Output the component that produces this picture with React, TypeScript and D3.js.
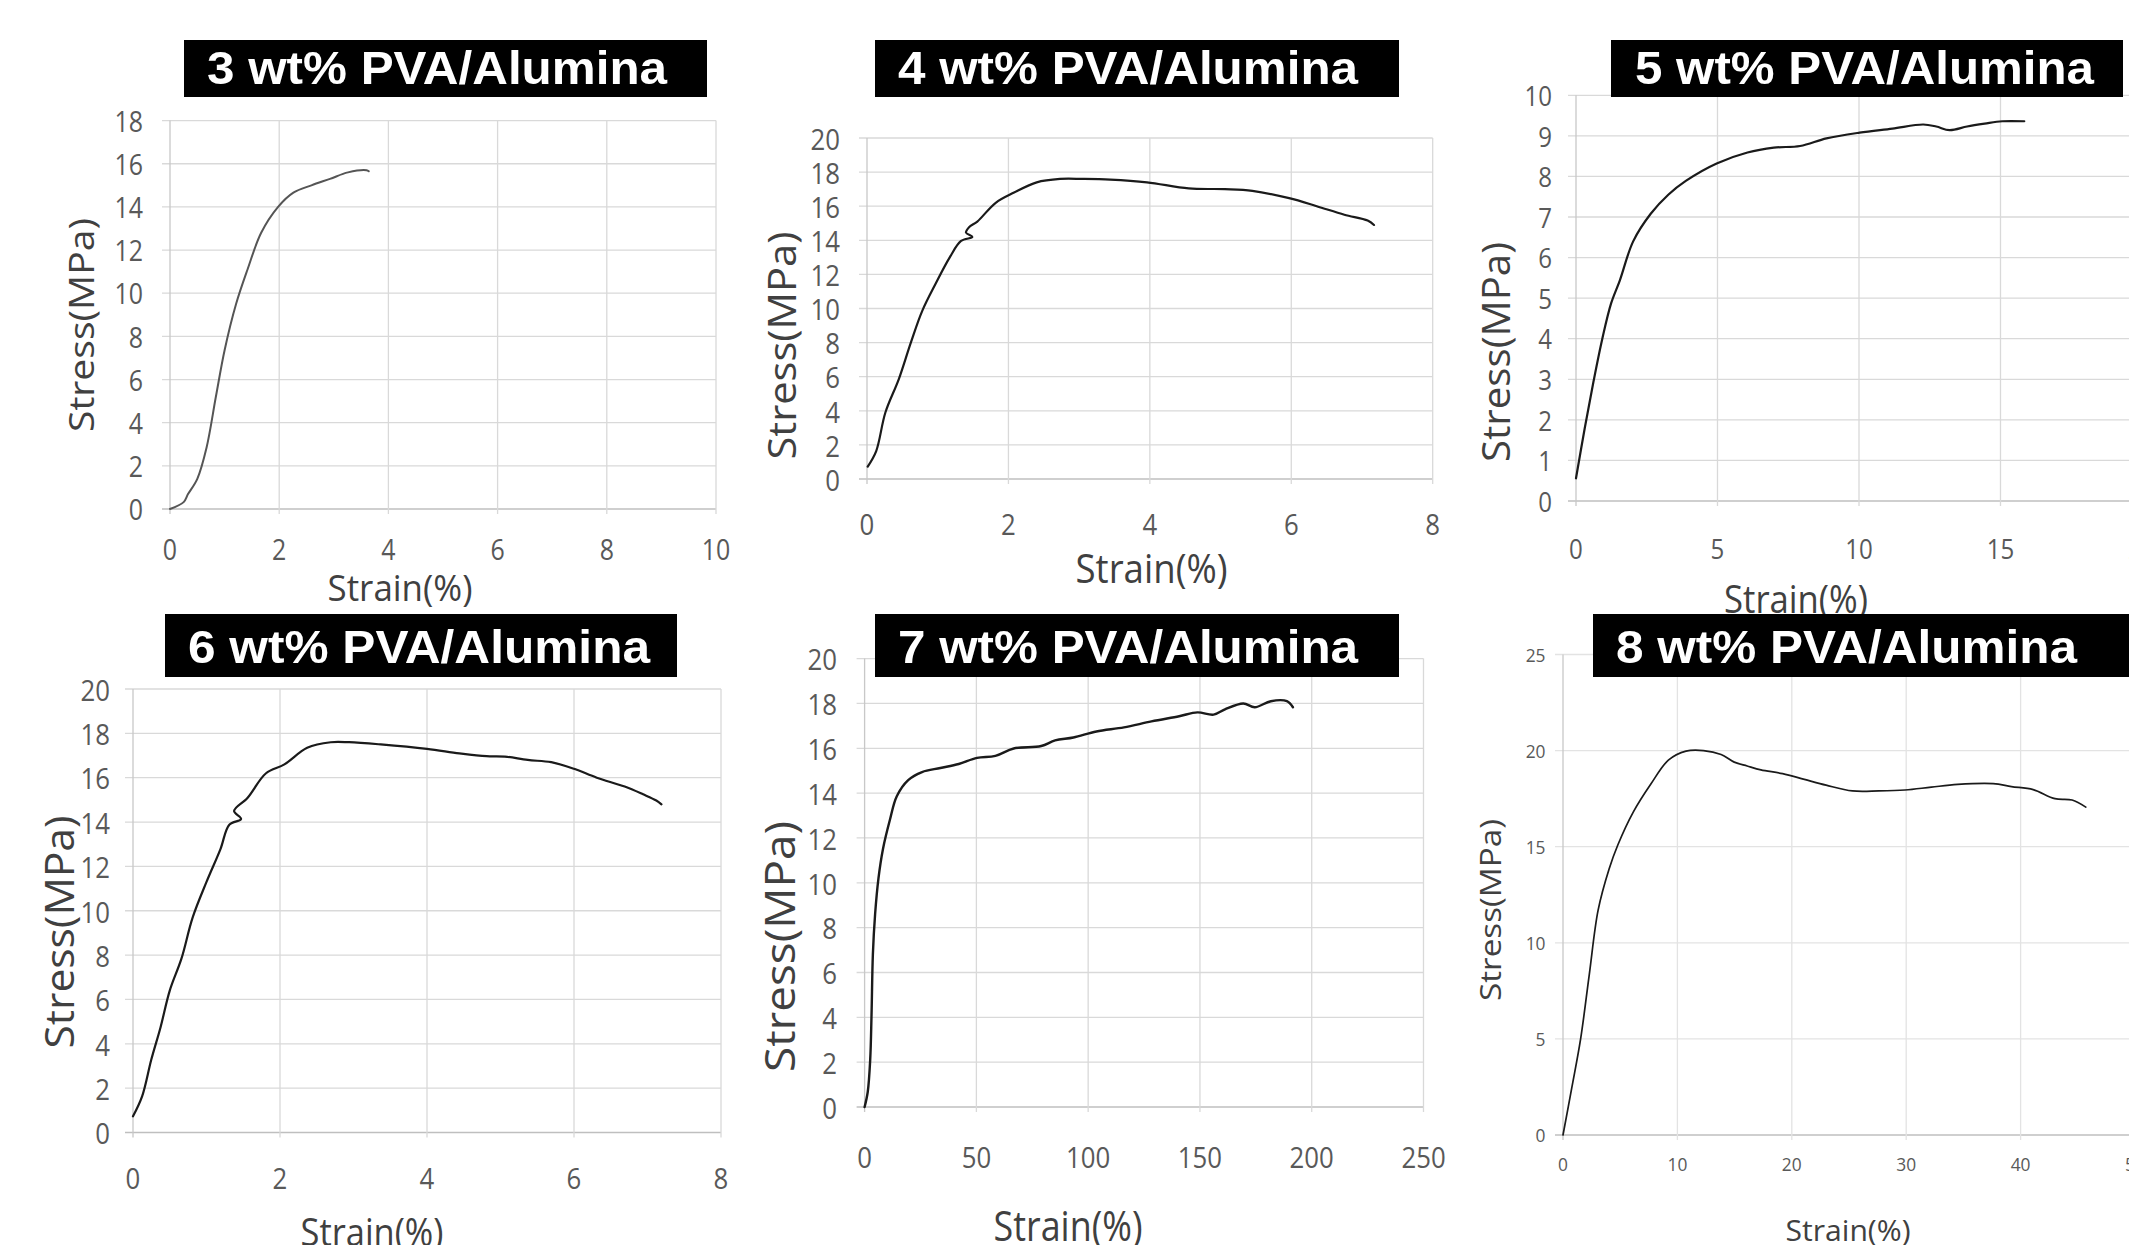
import React from 'react';
import * as d3 from 'd3';

// ---------- DATA ----------
const strain3 = [0, 0.25, 0.33, 0.5, 0.67, 0.84, 1.0, 1.21, 1.42, 1.67, 1.98, 2.26, 2.59, 2.93, 3.26, 3.6, 3.64];
const stress3 = [0, 0.32, 0.69, 1.4, 2.85, 5.2, 7.36, 9.5, 11.1, 12.8, 14.0, 14.66, 15.0, 15.3, 15.6, 15.7, 15.65];
const xTicks3 = [0, 2, 4, 6, 8, 10];
const yTicks3 = [0, 2, 4, 6, 8, 10, 12, 14, 16, 18];

const strain4 = [0.01, 0.13, 0.26, 0.45, 0.62, 0.78, 0.97, 1.17, 1.33, 1.49, 1.4, 1.45, 1.56, 1.82, 2.08, 2.4, 2.73, 3.05, 3.44, 3.96, 4.55, 5.06, 5.45, 5.97, 6.36, 6.75, 7.08, 7.17];
const stress4 = [0.73, 1.64, 3.9, 5.86, 8.0, 9.85, 11.45, 13.0, 13.96, 14.2, 14.45, 14.8, 15.1, 16.2, 16.8, 17.4, 17.6, 17.6, 17.56, 17.4, 17.04, 17.0, 16.9, 16.47, 16.0, 15.5, 15.16, 14.9];
const xTicks4 = [0, 2, 4, 6, 8];
const yTicks4 = [0, 2, 4, 6, 8, 10, 12, 14, 16, 18, 20];

const strain5 = [0, 0.31, 0.62, 0.93, 1.24, 1.55, 2.02, 2.64, 3.26, 3.88, 4.97, 6.06, 6.99, 7.92, 8.85, 10.02, 11.18, 12.27, 12.73, 13.2, 13.82, 14.44, 15.06, 15.84];
const stress5 = [0.56, 1.8, 2.95, 4.0, 4.87, 5.44, 6.4, 7.08, 7.55, 7.89, 8.32, 8.59, 8.71, 8.75, 8.94, 9.08, 9.18, 9.28, 9.23, 9.14, 9.23, 9.3, 9.36, 9.36];
const xTicks5 = [0, 5, 10, 15, 20];
const yTicks5 = [0, 1, 2, 3, 4, 5, 6, 7, 8, 9, 10];

const strain6 = [0, 0.125, 0.25, 0.375, 0.5, 0.66, 0.81, 1.0, 1.19, 1.31, 1.47, 1.375, 1.56, 1.81, 2.06, 2.37, 2.69, 2.94, 3.37, 4.0, 4.44, 4.81, 5.06, 5.37, 5.69, 6.0, 6.31, 6.69, 6.94, 7.12, 7.19];
const stress6 = [0.73, 1.64, 3.3, 4.75, 6.4, 7.85, 9.68, 11.3, 12.78, 13.88, 14.14, 14.5, 15.1, 16.2, 16.6, 17.35, 17.6, 17.6, 17.5, 17.3, 17.1, 16.97, 16.95, 16.8, 16.7, 16.4, 16.0, 15.6, 15.25, 14.97, 14.8];
const xTicks6 = [0, 2, 4, 6, 8];
const yTicks6 = [0, 2, 4, 6, 8, 10, 12, 14, 16, 18, 20];

const strain7 = [0, 1.4, 2.5, 3.1, 3.7, 4.7, 6.2, 8.2, 11.3, 14.4, 19.5, 25.7, 33.9, 42.1, 50.3, 58.5, 66.7, 79, 85.2, 93.4, 103.7, 116, 128.3, 140.7, 148.9, 156.1, 161.2, 169.4, 174.5, 181.7, 188.9, 191.6];
const stress7 = [0, 0.67, 2.1, 4.1, 6.8, 8.6, 10.2, 11.5, 12.8, 13.86, 14.58, 14.94, 15.12, 15.3, 15.57, 15.66, 15.99, 16.1, 16.35, 16.48, 16.75, 16.93, 17.2, 17.43, 17.6, 17.5, 17.74, 18.0, 17.83, 18.1, 18.1, 17.83];
const xTicks7 = [0, 50, 100, 150, 200, 250];
const yTicks7 = [0, 2, 4, 6, 8, 10, 12, 14, 16, 18, 20];

const strain8 = [0, 0.77, 1.54, 2.3, 3.07, 4.03, 4.8, 6.14, 7.68, 9.21, 10.75, 12.28, 13.82, 14.97, 16.1, 17.3, 19.2, 21.1, 23.0, 25.3, 27.6, 29.9, 32.2, 34.5, 37.6, 39.2, 41.1, 43.0, 44.5, 45.7];
const stress8 = [0, 2.46, 5.0, 8.36, 11.7, 13.84, 15.1, 16.8, 18.26, 19.5, 19.97, 20.0, 19.8, 19.4, 19.2, 19.0, 18.8, 18.5, 18.2, 17.9, 17.9, 17.95, 18.1, 18.24, 18.28, 18.13, 17.97, 17.5, 17.43, 17.06];
const xTicks8 = [0, 10, 20, 30, 40, 50];
const yTicks8 = [0, 5, 10, 15, 20, 25];

const titles = ['3 wt% PVA/Alumina', '4 wt% PVA/Alumina', '5 wt% PVA/Alumina', '6 wt% PVA/Alumina', '7 wt% PVA/Alumina', '8 wt% PVA/Alumina'];
const yTitle = 'Stress(MPa)';
const xTitle = 'Strain(%)';

// ---------- LAYOUT ----------
const W = 2129, H = 1245;
const SANS = "'Open Sans', 'Noto Sans', sans-serif";
const ARIAL = "'Liberation Sans', Arial, sans-serif";

type Panel = {
  xs: number[]; ys: number[]; xt: number[]; yt: number[];
  xr: [number, number]; yr: [number, number];
  tick: number; tickSx: number; yLabGap: number; xLabOff: number;
  yT: { x: number; y: number; size: number; len: number };
  xT: { x: number; y: number; size: number; len: number };
  box: { x: number; y: number; w: number; h: number; tx: number; ty: number; len: number };
  stroke: string; sw: number; grid: string;
};

const panels: Panel[] = [
  { xs: strain3, ys: stress3, xt: xTicks3, yt: yTicks3, xr: [170, 716], yr: [509, 120.6], tick: 29, tickSx: 0.86, yLabGap: 27, xLabOff: 39.5,
    yT: { x: 80, y: 325, size: 35, len: 214 }, xT: { x: 400, y: 587, size: 36, len: 145 },
    box: { x: 184, y: 40, w: 523, h: 57, tx: 207, ty: 84, len: 460 }, stroke: '#555', sw: 2, grid: '#d9d9d9' },
  { xs: strain4, ys: stress4, xt: xTicks4, yt: yTicks4, xr: [867, 1432.7], yr: [479, 138], tick: 30, tickSx: 0.86, yLabGap: 27, xLabOff: 44,
    yT: { x: 780.5, y: 345.5, size: 38, len: 228 }, xT: { x: 1151.5, y: 567.6, size: 40, len: 152 },
    box: { x: 875, y: 40, w: 524, h: 57, tx: 898, ty: 84, len: 460 }, stroke: '#1a1a1a', sw: 2.2, grid: '#d9d9d9' },
  { xs: strain5, ys: stress5, xt: xTicks5, yt: yTicks5, xr: [1576, 2142], yr: [501, 95.3], tick: 28, tickSx: 0.86, yLabGap: 24, xLabOff: 47.5,
    yT: { x: 1495, y: 352, size: 38, len: 220 }, xT: { x: 1796, y: 598, size: 38, len: 144 },
    box: { x: 1611, y: 40, w: 512, h: 57, tx: 1635, ty: 84, len: 459 }, stroke: '#1a1a1a', sw: 2.2, grid: '#d9d9d9' },
  { xs: strain6, ys: stress6, xt: xTicks6, yt: yTicks6, xr: [133, 721], yr: [1132.5, 689], tick: 30, tickSx: 0.86, yLabGap: 23, xLabOff: 44.5,
    yT: { x: 58, y: 932, size: 40, len: 233 }, xT: { x: 372, y: 1231, size: 38, len: 143 },
    box: { x: 165, y: 614, w: 512, h: 63, tx: 188, ty: 663, len: 462 }, stroke: '#1a1a1a', sw: 2.2, grid: '#d9d9d9' },
  { xs: strain7, ys: stress7, xt: xTicks7, yt: yTicks7, xr: [864.6, 1423.5], yr: [1107, 658.6], tick: 30, tickSx: 0.86, yLabGap: 27.6, xLabOff: 49.7,
    yT: { x: 778, y: 946.5, size: 42, len: 251 }, xT: { x: 1068, y: 1224, size: 42, len: 149 },
    box: { x: 875, y: 614, w: 524, h: 63, tx: 898, ty: 663, len: 460 }, stroke: '#1a1a1a', sw: 2.4, grid: '#d9d9d9' },
  { xs: strain8, ys: stress8, xt: xTicks8, yt: yTicks8, xr: [1563, 2135], yr: [1135, 654.5], tick: 18.5, tickSx: 0.94, yLabGap: 17.5, xLabOff: 29,
    yT: { x: 1489, y: 910, size: 30, len: 182 }, xT: { x: 1848, y: 1229.5, size: 30, len: 125 },
    box: { x: 1593, y: 614, w: 540, h: 63, tx: 1616, ty: 663, len: 461 }, stroke: '#1a1a1a', sw: 1.7, grid: '#e3e3e3' },
];

function PanelChart({ p }: { p: Panel }) {
  const xd = [p.xt[0], p.xt[p.xt.length - 1]];
  const yd = [p.yt[0], p.yt[p.yt.length - 1]];
  const x = d3.scaleLinear().domain(xd).range(p.xr);
  const y = d3.scaleLinear().domain(yd).range(p.yr);
  const pts = p.xs.map((v, i) => [v, p.ys[i]] as [number, number]);
  const line = d3.line<[number, number]>().x(d => x(d[0])).y(d => y(d[1])).curve(d3.curveCatmullRom.alpha(0.5));
  const [x0, x1] = p.xr;
  const [yb, yt] = p.yr;
  return (
    <g>
      {p.yt.map(t => (
        <line key={'gy' + t} x1={x0 - 8} x2={x1} y1={y(t)} y2={y(t)} stroke={t === 0 ? '#bfbfbf' : p.grid} strokeWidth={t === 0 ? 1.6 : 1.3} />
      ))}
      {p.xt.map(t => (
        <line key={'gx' + t} x1={x(t)} x2={x(t)} y1={yt} y2={yb + 5} stroke={t === 0 ? '#c8c8c8' : p.grid} strokeWidth={1.3} />
      ))}
      {p.yt.map(t => (
        <text key={'ly' + t} transform={`translate(${x0 - p.yLabGap},${y(t)}) scale(${p.tickSx},1)`} textAnchor="end" dominantBaseline="central"
          fontFamily={SANS} fontSize={p.tick} fill="#595959">{t}</text>
      ))}
      {p.xt.map(t => (
        <text key={'lx' + t} transform={`translate(${x(t)},${yb + p.xLabOff}) scale(${p.tickSx},1)`} textAnchor="middle" dominantBaseline="central"
          fontFamily={SANS} fontSize={p.tick} fill="#595959">{t}</text>
      ))}
      <path d={line(pts) || ''} fill="none" stroke={p.stroke} strokeWidth={p.sw} strokeLinejoin="round" strokeLinecap="round" />
      <text transform={`translate(${p.yT.x},${p.yT.y}) rotate(-90)`} textAnchor="middle" dominantBaseline="central" fontFamily={SANS}
        fontSize={p.yT.size} fill="#404040" textLength={p.yT.len} lengthAdjust="spacingAndGlyphs">{yTitle}</text>
      <text transform={`translate(${p.xT.x},${p.xT.y})`} textAnchor="middle" dominantBaseline="central" fontFamily={SANS}
        fontSize={p.xT.size} fill="#404040" textLength={p.xT.len} lengthAdjust="spacingAndGlyphs">{xTitle}</text>
    </g>
  );
}

export default function App() {
  return (
    <svg width={W} height={H} viewBox={`0 0 ${W} ${H}`} style={{ position: 'absolute', left: 0, top: 0, display: 'block', background: '#fff' }}>
      <rect x={0} y={0} width={W} height={H} fill="#fff" />
      {panels.map((p, i) => <PanelChart key={i} p={p} />)}
      {panels.map((p, i) => (
        <g key={'t' + i}>
          <rect x={p.box.x} y={p.box.y} width={p.box.w} height={p.box.h} fill="#000" />
          <text x={p.box.tx} y={p.box.ty} fontFamily={ARIAL} fontWeight="bold" fontSize={47} fill="#fff"
            textLength={p.box.len} lengthAdjust="spacingAndGlyphs">{titles[i]}</text>
        </g>
      ))}
    </svg>
  );
}
